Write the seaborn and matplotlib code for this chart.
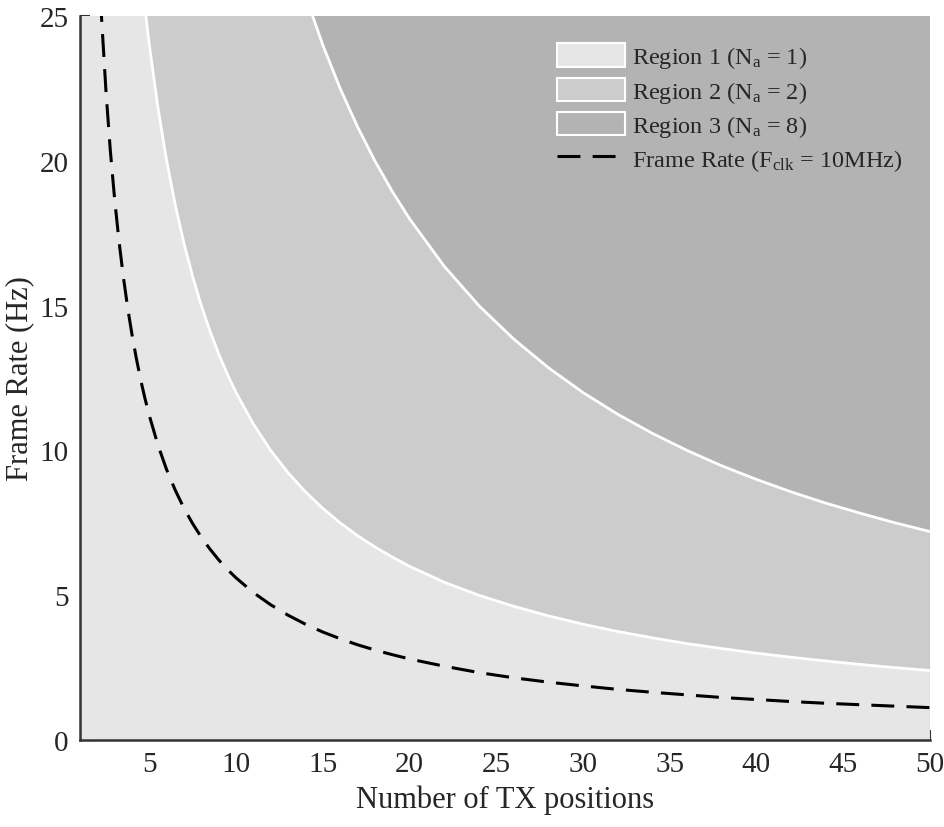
import pandas as pd
import matplotlib.pyplot as plt
import seaborn as sns
from matplotlib.patches import Patch
from matplotlib.lines import Line2D

# values
tx = [1, 1.5, 2, 2.25, 2.5, 2.75, 3, 3.25, 3.5, 3.75, 4, 4.25, 4.5, 4.75, 5, 5.5, 6, 6.5,
      7, 7.5, 8, 8.5, 9, 9.5, 10, 11, 12, 13, 14, 15, 16, 17, 18, 19, 20, 22, 24, 26, 28,
      30, 32, 34, 36, 38, 40, 42, 44, 46, 48, 50]
frame_rate = [56, 37.33, 28, 24.89, 22.4, 20.36, 18.67, 17.23, 16, 14.93, 14, 13.18, 12.44,
              11.79, 11.2, 10.18, 9.33, 8.62, 8, 7.47, 7, 6.59, 6.22, 5.89, 5.6, 5.09, 4.67,
              4.31, 4, 3.73, 3.5, 3.29, 3.11, 2.95, 2.8, 2.55, 2.33, 2.15, 2.0, 1.87, 1.75,
              1.65, 1.56, 1.47, 1.4, 1.33, 1.27, 1.22, 1.17, 1.12]
region1_top = [120, 80, 60, 53.33, 48, 43.64, 40, 36.92, 34.29, 32, 30, 28.24, 26.67, 25.26,
               24, 21.82, 20, 18.46, 17.14, 16, 15, 14.12, 13.33, 12.63, 12, 10.91, 10, 9.23,
               8.57, 8, 7.5, 7.06, 6.67, 6.32, 6, 5.45, 5, 4.62, 4.29, 4, 3.75, 3.53, 3.33,
               3.16, 3, 2.86, 2.73, 2.61, 2.5, 2.4]
region2_top = [360, 240, 180, 160, 144, 130.9, 120, 110.8, 102.9, 96, 90, 84.7, 80, 75.8, 72,
               65.45, 60, 55.38, 51.43, 48, 45, 42.35, 40, 37.89, 36, 32.73, 30, 27.69, 25.71,
               24, 22.5, 21.18, 20, 18.95, 18, 16.36, 15, 13.85, 12.86, 12, 11.25, 10.59, 10,
               9.47, 9, 8.57, 8.18, 7.83, 7.5, 7.2]

labels = ['Region 1 (N$_{\\mathrm{a}}$ = 1)', 'Region 2 (N$_{\\mathrm{a}}$ = 2)',
          'Region 3 (N$_{\\mathrm{a}}$ = 8)', 'Frame Rate (F$_{\\mathrm{clk}}$ = 10MHz)']
colors = ['#e6e6e6', '#cccccc', '#b3b3b3']

df = pd.DataFrame({'tx': tx, 'frame': frame_rate, 'r1': region1_top, 'r2': region2_top})

sns.set_style('ticks')
plt.rcParams['font.family'] = ['Liberation Serif', 'DejaVu Serif']
plt.rcParams['mathtext.fontset'] = 'custom'
plt.rcParams['mathtext.rm'] = 'Liberation Serif'
plt.rcParams['mathtext.it'] = 'Liberation Serif:italic'

fig = plt.figure(figsize=(9.44, 8.28), dpi=100)
ax = fig.add_axes([0.0847, 0.105, 0.9003, 0.8745])
ax.set_facecolor(colors[2])

ax.fill_between(df['tx'], 0, df['r2'], color=colors[1], lw=0)
ax.fill_between(df['tx'], 0, df['r1'], color=colors[0], lw=0)
sns.lineplot(data=df, x='tx', y='r2', color='white', lw=2.0, ax=ax, sort=False)
sns.lineplot(data=df, x='tx', y='r1', color='white', lw=2.0, ax=ax, sort=False)
sns.lineplot(data=df, x='tx', y='frame', color='black', lw=2.2, ax=ax, sort=False)
ax.lines[-1].set_dashes((7.5, 4))

ax.set_xlim(1, 50)
ax.set_ylim(0, 25)
ax.set_xticks([5, 10, 15, 20, 25, 30, 35, 40, 45, 50])
ax.set_yticks([0, 5, 10, 15, 20, 25])
ax.set_xlabel('Number of TX positions', fontsize=22, labelpad=5)
ax.set_ylabel('Frame Rate (Hz)', fontsize=22, labelpad=4)
ax.tick_params(direction='in', length=7, width=1.5, color='#333333', labelsize=21, pad=8)
for side in ['top', 'right']:
    ax.spines[side].set_visible(False)
for side in ['left', 'bottom']:
    ax.spines[side].set_color('#333333')
    ax.spines[side].set_linewidth(1.8)

handles = [Patch(facecolor=c, edgecolor='white', lw=1.5) for c in colors]
handles.append(Line2D([], [], color='black', lw=2.2, dashes=(7.5, 4)))
ax.legend(handles, labels, loc='upper left', bbox_to_anchor=(0.561, 0.962), frameon=False,
          fontsize=17.5, handlelength=2.8, handleheight=1.1, handletextpad=0.3,
          labelspacing=0.3, borderpad=0, borderaxespad=0)

plt.savefig('out.png', dpi=100)
